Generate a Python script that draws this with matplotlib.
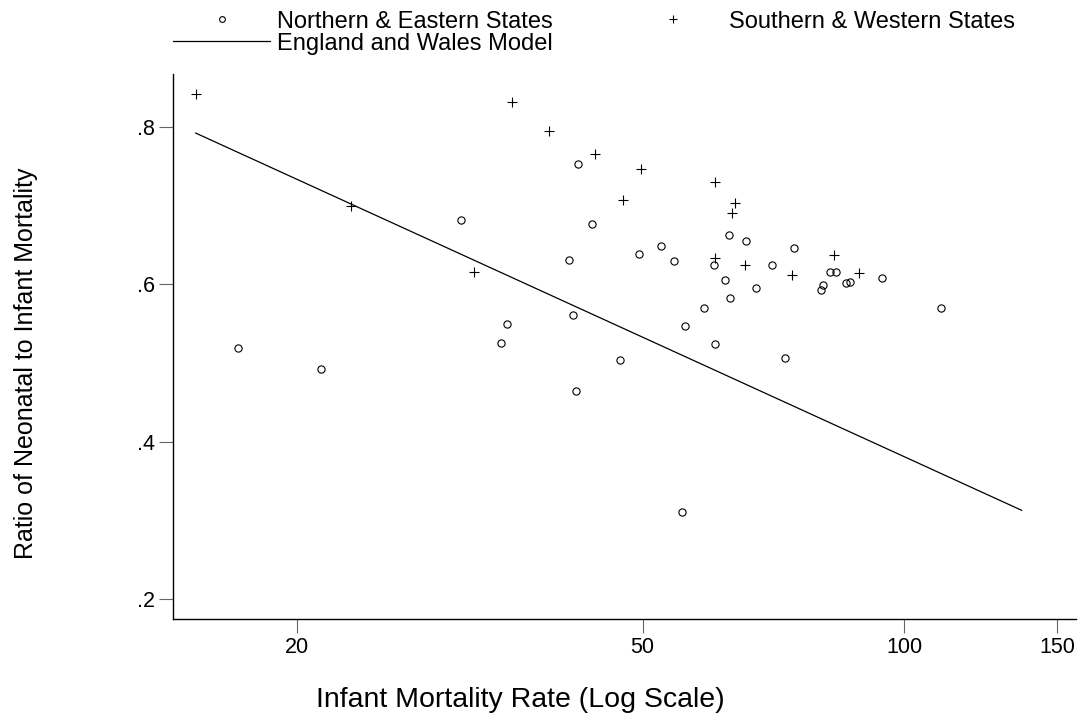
import matplotlib
matplotlib.use("Agg")
import matplotlib.pyplot as plt
from matplotlib.ticker import FixedLocator, FixedFormatter, NullLocator

plt.rcParams['font.family'] = ['Liberation Sans', 'DejaVu Sans']

# Northern & Eastern States (circles)
ne_imr = [30.9, 34.9, 34.4, 17.1, 21.3, 42.1, 43.7, 62.9, 65.7, 52.5, 49.5, 41.1,
          54.3, 60.4, 62.2, 63.1, 58.9, 41.6, 56.0, 60.6, 47.1, 41.9, 55.5, 74.7,
          70.5, 67.6, 73.0, 82.1, 83.4, 94.2, 80.6, 80.3, 85.7, 86.6, 110.2]
ne_ratio = [0.682, 0.549, 0.526, 0.519, 0.492, 0.753, 0.677, 0.662, 0.655, 0.649,
            0.639, 0.631, 0.630, 0.625, 0.606, 0.582, 0.570, 0.561, 0.547, 0.524,
            0.504, 0.464, 0.311, 0.646, 0.624, 0.595, 0.507, 0.615, 0.616, 0.608,
            0.599, 0.593, 0.601, 0.603, 0.570]

# Southern & Western States (plus)
sw_imr = [15.3, 35.4, 23.1, 32.0, 39.0, 44.1, 49.8, 60.5, 47.5, 63.8, 63.4, 60.5,
          65.6, 74.2, 83.0, 88.7]
sw_ratio = [0.841, 0.832, 0.699, 0.615, 0.795, 0.766, 0.746, 0.730, 0.707, 0.703,
            0.690, 0.633, 0.625, 0.612, 0.637, 0.614]

# England and Wales model line
model_imr = [15.3, 136.5]
model_ratio = [0.792, 0.313]

x_ticks = [20, 50, 100, 150]
x_ticklabels = ["20", "50", "100", "150"]
y_ticks = [0.2, 0.4, 0.6, 0.8]
y_ticklabels = [".2", ".4", ".6", ".8"]

fig = plt.figure(figsize=(10.78, 7.22), dpi=100)
ax = fig.add_axes([0.1608, 0.1427, 0.998 - 0.1608, 0.7548])

h1, = ax.plot(ne_imr, ne_ratio, linestyle='none', marker='o', markersize=5.2,
              markerfacecolor='none', markeredgecolor='black', markeredgewidth=0.8)
h2, = ax.plot(sw_imr, sw_ratio, linestyle='none', marker='+', markersize=7.5,
              color='black', markeredgewidth=0.8)
h3, = ax.plot(model_imr, model_ratio, color='black', linewidth=0.9)

ax.set_xscale('log')
ax.set_xlim(14.42, 157.6)
ax.set_ylim(0.175, 0.867)
ax.xaxis.set_major_locator(FixedLocator(x_ticks))
ax.xaxis.set_major_formatter(FixedFormatter(x_ticklabels))
ax.xaxis.set_minor_locator(NullLocator())
ax.yaxis.set_major_locator(FixedLocator(y_ticks))
ax.yaxis.set_major_formatter(FixedFormatter(y_ticklabels))

for s in ['top', 'right']:
    ax.spines[s].set_visible(False)
for s in ['left', 'bottom']:
    ax.spines[s].set_linewidth(1.0)
ax.tick_params(axis='both', direction='out', length=10, width=0.8, color='#666666',
               labelsize=15.5, pad=3)

ax.set_xlabel("Infant Mortality Rate (Log Scale)", fontsize=20.5)
ax.xaxis.set_label_coords(0.384, -0.125)
ax.set_ylabel("Ratio of Neonatal to Infant Mortality", fontsize=18)
ax.yaxis.set_label_coords(-0.150, 0.47)

leg = fig.legend([h1, h3, h2],
                 ["Northern & Eastern States", "England and Wales Model",
                  "Southern & Western States"],
                 ncol=2, loc='upper left', bbox_to_anchor=(0.1455, 1.008),
                 frameon=False, fontsize=17, handlelength=4.1, handletextpad=0.3,
                 columnspacing=3.05, labelspacing=0.0, borderpad=0.2,
                 markerscale=0.8)

fig.savefig("out.png", dpi=100)
